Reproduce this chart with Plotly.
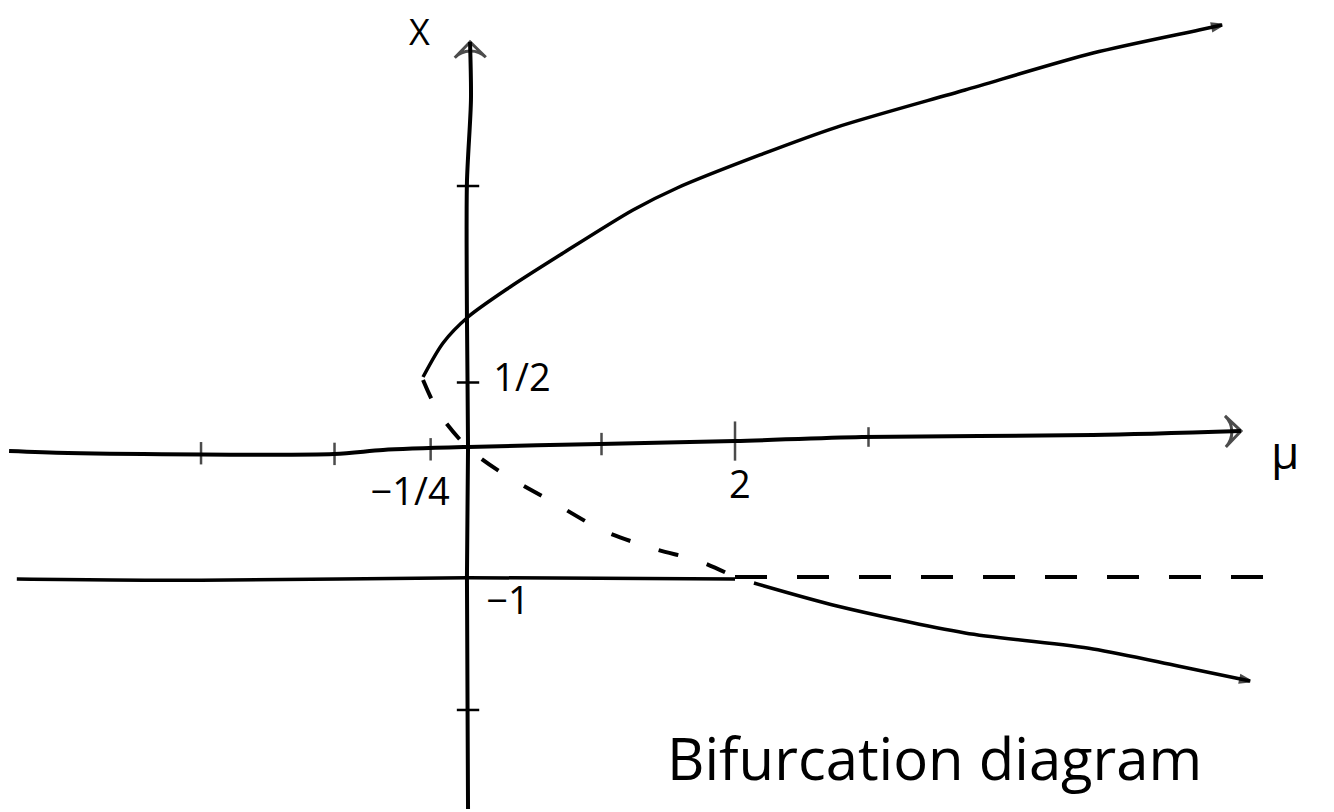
import plotly.graph_objects as go

# values (mu on the horizontal, x on the vertical)
upper_mu = [-0.337, -0.187, 0.0, 0.315, 0.689, 1.236, 1.566, 2.187, 2.764, 3.723, 4.682, 5.476, 5.648]
upper_x = [0.542, 0.802, 1.0, 1.229, 1.473, 1.817, 1.985, 2.237, 2.450, 2.733, 3.015, 3.191, 3.229]

# unstable part of the lower branch (dashed)
lower_dash_mu = [-0.337, -0.22, 0.0, 0.255, 0.622, 1.019, 1.401, 1.730, 2.015]
lower_dash_x = [0.519, 0.27, 0.0, -0.191, -0.405, -0.634, -0.771, -0.863, -0.992]

# stable part of the lower branch after the crossing at mu = 2
lower_solid_mu = [2.142, 2.764, 3.723, 4.682, 5.318, 5.858]
lower_solid_x = [-1.031, -1.206, -1.412, -1.534, -1.664, -1.779]

# the x = -1 branch, solid then dashed
minus1_solid_mu = [-3.38, -2.0, 0.0, 2.0]
minus1_solid_x = [-1.0, -1.01, -0.99, -1.0]
minus1_dash_mu = [2.0, 5.97]
minus1_dash_x = [-0.985, -0.985]

# the two axes as drawn (slightly wobbly)
mu_axis_mu = [-3.438, -2.996, -1.004, -0.637, 0.0, 0.989, 2.0, 2.951, 4.682, 5.790]
mu_axis_x = [-0.023, -0.038, -0.046, -0.015, 0.008, 0.031, 0.053, 0.084, 0.099, 0.130]
x_axis_mu = [0.0, -0.008, 0.0, -0.008, -0.008, 0.022, 0.015]
x_axis_x = [-2.756, -0.992, 0.0, 1.0, 2.03, 2.656, 3.10]

mu_ticks = [-2, -1, -0.28, 1, 2, 3]
mu_ticks_y = [-0.04, -0.045, -0.01, 0.03, 0.053, 0.084]
x_ticks = [2, 0.5, -2]

labels = ["−1/4", "1/2", "2", "−1"]
labels_mu = [-0.434, 0.404, 2.037, 0.30]
labels_x = [-0.366, 0.511, -0.313, -1.198]

ink = "black"
font = "Open Sans"

fig = go.Figure()


def stroke(mu, x, dash="solid", width=3.5, end=None, end_size=12):
    # one pen stroke, optionally with an arrow head on the last point
    sizes = [0] * (len(mu) - 1) + [end_size if end else 0]
    fig.add_trace(go.Scatter(
        x=mu, y=x, mode="lines+markers",
        line=dict(color=ink, width=width, dash=dash, shape="spline", smoothing=0.8),
        marker=dict(size=sizes, symbol=end or "circle", angleref="previous",
                    color=ink, line=dict(color=ink, width=3)),
        hoverinfo="skip"))


stroke(mu_axis_mu, mu_axis_x, width=4, end="arrow-wide-open", end_size=22)
stroke(x_axis_mu, x_axis_x, width=4, end="arrow-wide-open", end_size=22)
stroke(upper_mu, upper_x, end="arrow", end_size=10)
stroke(lower_dash_mu, lower_dash_x, dash="20px,30px", width=4)
stroke(lower_solid_mu, lower_solid_x, end="arrow", end_size=10)
stroke(minus1_solid_mu, minus1_solid_x)
stroke(minus1_dash_mu, minus1_dash_x, dash="32px,30px", width=4)

# tick marks
fig.add_trace(go.Scatter(
    x=mu_ticks, y=mu_ticks_y, mode="markers",
    marker=dict(symbol="line-ns", size=[16, 16, 16, 16, 28, 14], line=dict(color=ink, width=2.5)),
    hoverinfo="skip"))
fig.add_trace(go.Scatter(
    x=[0] * len(x_ticks), y=x_ticks, mode="markers",
    marker=dict(symbol="line-ew", size=16, line=dict(color=ink, width=2.5)),
    hoverinfo="skip"))

# tick labels
fig.add_trace(go.Scatter(
    x=labels_mu, y=labels_x, mode="text", text=labels,
    textfont=dict(family=font, size=38, color=ink), hoverinfo="skip"))

fig.add_annotation(x=-0.367, y=3.18, text="X", showarrow=False,
                   font=dict(family=font, size=36, color=ink))
fig.add_annotation(x=6.12, y=-0.023, text="μ", showarrow=False,
                   font=dict(family=font, size=46, color=ink))
fig.add_annotation(x=3.498, y=-2.366, text="Bifurcation diagram", showarrow=False,
                   font=dict(family=font, size=58, color=ink))

# the page puts the figure 8px in from the top left corner, ranges allow for that
fig.update_layout(
    width=1334, height=812,
    margin=dict(l=0, r=0, t=0, b=0),
    paper_bgcolor="white", plot_bgcolor="white",
    showlegend=False,
    xaxis=dict(visible=False, range=[-3.446, 6.547]),
    yaxis=dict(visible=False, range=[-2.840, 3.359]),
)

fig.write_html("out.html")
